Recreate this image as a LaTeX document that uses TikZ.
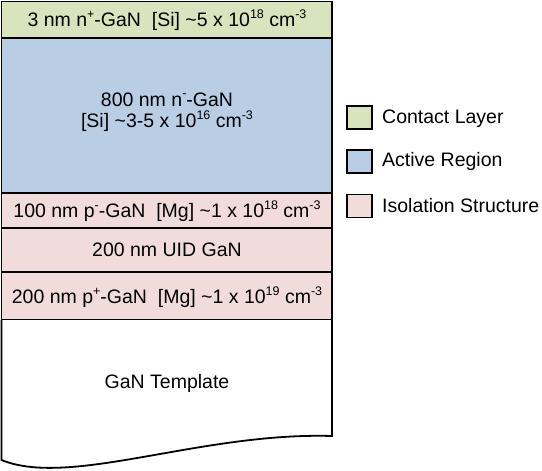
\documentclass[tikz,border=0pt]{standalone}
\usepackage{fontspec}
\setmainfont{Liberation Sans}
\definecolor{contactc}{HTML}{D7E4BD}
\definecolor{activec}{HTML}{B9CDE5}
\definecolor{isoc}{HTML}{F2DCDB}
\newcommand\mysup[1]{\raisebox{0.42em}{\fontsize{12.5}{12.5}\selectfont #1}}
\newcommand\tl{\textasciitilde}
\begin{document}
\begin{tikzpicture}[x=1pt,y=-1pt,
  layer/.style={draw=black, line width=1.8pt},
  lbl/.style={font=\fontsize{19.5}{21.5}\selectfont, align=center, inner sep=0pt},
  swatch/.style={draw=black, minimum width=25pt, minimum height=23pt, inner sep=0pt, line width=1.8pt},
  legtext/.style={lbl, anchor=west}]
\useasboundingbox (0,0) rectangle (542,471);
% layers
\path[layer, fill=contactc] (1.5,1.5) rectangle (332,38);
\path[layer, fill=activec] (1.5,38) rectangle (332,193);
\path[layer, fill=isoc] (1.5,193) rectangle (332,228);
\path[layer, fill=isoc] (1.5,228) rectangle (332,272);
\path[layer, fill=isoc] (1.5,272) rectangle (332,320);
\path[layer, fill=white] (1.5,320) -- (1.5,460) .. controls (70,488) and (200,432) .. (332,436) -- (332,320);
% labels
\node[lbl] (contact) at (167,20) {3 nm n\mysup{+}-GaN\ \ [Si] \tl5 x 10\mysup{18} cm\mysup{-3}};
\node[lbl] (active) at (167,112) {800 nm n\mysup{-}-GaN\\{}[Si] \tl3-5 x 10\mysup{16} cm\mysup{-3}};
\node[lbl] (pminus) at (167,211) {100 nm p\mysup{-}-GaN\ \ [Mg] \tl1 x 10\mysup{18} cm\mysup{-3}};
\node[lbl] (uid) at (167,250) {200 nm UID GaN};
\node[lbl] (pplus) at (167,297) {200 nm p\mysup{+}-GaN\ \ [Mg] \tl1 x 10\mysup{19} cm\mysup{-3}};
\node[lbl] (template) at (167,383) {GaN Template};
% legend
\node[swatch, fill=contactc] (s1) at (359.5,117.5) {};
\node[swatch, fill=activec] (s2) at (359.5,161.5) {};
\node[swatch, fill=isoc] (s3) at (359.5,206) {};
\node[legtext] (t1) at (382,118.5) {Contact Layer};
\node[legtext] (t2) at (382,161.5) {Active Region};
\node[legtext] (t3) at (382,206) {Isolation Structure};
\end{tikzpicture}
\end{document}
